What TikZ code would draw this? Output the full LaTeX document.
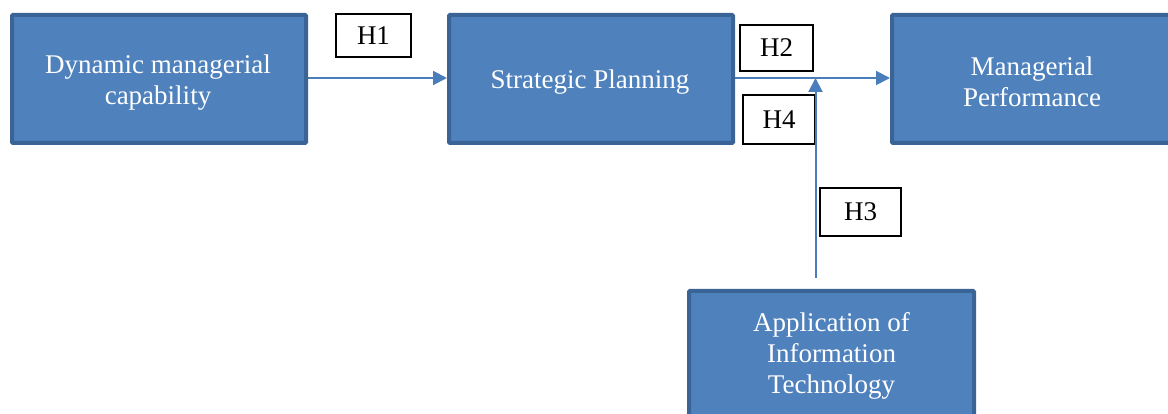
\documentclass[tikz,border=0pt]{standalone}
\usepackage{fontspec}
\setmainfont{Liberation Serif}
\usetikzlibrary{arrows.meta}
\definecolor{boxfill}{HTML}{4F81BD}
\definecolor{boxedge}{HTML}{3B6496}
\definecolor{linecol}{HTML}{4A7EBB}
\tikzset{
  bluebox/.style={draw=boxedge, line width=4pt, fill=boxfill, rounded corners=1pt},
  boxtext/.style={text=white, align=center, font=\fontsize{27}{31}\selectfont},
  hbox/.style={draw=black, line width=1.2pt, fill=white, font=\fontsize{27}{30}\selectfont, inner sep=0pt},
  conn/.style={draw=linecol, line width=2pt, -{Triangle[length=14pt,width=14pt]}}
}
\begin{document}
\begin{tikzpicture}[x=1pt,y=-1pt]
\useasboundingbox (0,0) rectangle (1168,414);
\clip (0,0) rectangle (1168,414);
% boxes
\node[bluebox, minimum width=294pt, minimum height=128pt] (dmc) at (159,79) {};
\node[boxtext] (dmctext) at (158,83) {Dynamic managerial\\capability};
\node[bluebox, minimum width=284pt, minimum height=128pt] (sp) at (591,79) {};
\node[boxtext] (sptext) at (590,82) {Strategic Planning};
\node[bluebox, minimum width=278pt, minimum height=128pt] (mp) at (1031,79) {};
\node[boxtext] (mptext) at (1032,82) {Managerial\\Performance};
\node[bluebox, minimum width=285pt, minimum height=150pt, anchor=north] (ait) at (831.5,289) {};
\node[boxtext] (aittext) at (831.5,356) {Application of\\Information\\Technology};
% hypothesis labels
\node[hbox, minimum width=75pt, minimum height=43pt] (h1) at (373.5,35.5) {H1};
\node[hbox, minimum width=73pt, minimum height=46pt] (h2) at (776.5,48) {H2};
\node[hbox, minimum width=72pt, minimum height=49pt] (h4) at (779,119.5) {H4};
\node[hbox, minimum width=81pt, minimum height=48pt] (h3) at (860.5,212) {H3};
% connectors
\coordinate (junc) at (815.5,78);
\coordinate (vstart) at (815.5,278);
\draw[conn] (dmc.east |- 0,78) -- (sp.west |- 0,78);
\draw[conn] (sp.east |- 0,78) -- (mp.west |- 0,78);
\draw[conn] (vstart) -- (junc);
\end{tikzpicture}
\end{document}
